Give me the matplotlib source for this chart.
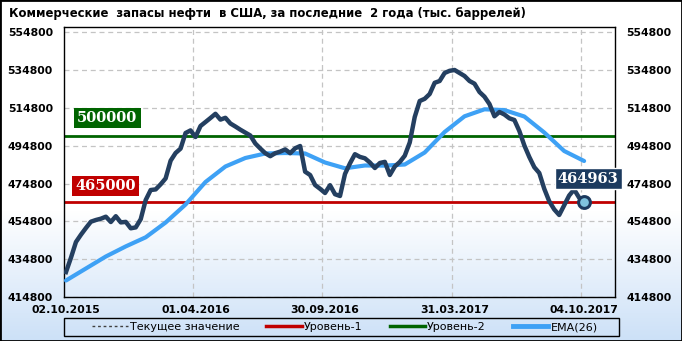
import matplotlib
matplotlib.use("Agg")
import matplotlib.pyplot as plt
import numpy as np
from matplotlib.lines import Line2D
from matplotlib.patches import Rectangle

# chart data
title = "Коммерческие  запасы нефти  в США, за последние  2 года (тыс. баррелей)"
date_labels = ["02.10.2015", "01.04.2016", "30.09.2016", "31.03.2017", "04.10.2017"]
date_idx = [0, 26, 52, 78, 104]

# weekly stocks, thousand barrels
stocks = [428000, 435600, 443900, 447760, 451300, 454640, 455540, 456230, 457290, 454480,
          457550, 454270, 454540, 451150, 451630, 455960, 466120, 471410, 471730, 474430,
          477550, 486920, 490990, 493320, 501570, 502950, 499460, 505280, 507390, 509510,
          511730, 508660, 509610, 506600, 505010, 503320, 501780, 500250, 496020, 493370,
          490890, 489300, 490890, 491730, 492900, 490890, 493480, 494690, 481100, 479350,
          474060, 472050, 469830, 473950, 469190, 468240, 479880, 485490, 490360, 488930,
          488190, 485960, 483050, 485700, 486300, 479350, 483850, 486230, 489560, 496550,
          510040, 518500, 519670, 522210, 528130, 529090, 533320, 534480, 534910, 533320,
          531730, 529090, 527660, 523270, 520780, 516920, 510410, 512680, 511360, 509350,
          508450, 502630, 495010, 488870, 483480, 480410, 472050, 465440, 461150, 458190,
          463320, 468500, 471680, 467340, 464963]

# EMA(26) read every 4 weeks
ema_idx = list(range(0, 105, 4))
ema26 = [423530, 429880, 436230, 441570, 446390, 454220, 463740, 475650, 483850, 488350,
         490730, 490990, 490730, 485960, 482900, 484380, 484320, 484910, 491260, 502100,
         510410, 514110, 513690, 510300, 501840, 492050, 486760]

level1 = 465000
level2 = 500000
yticks = list(range(414800, 554801, 20000))

W, H = 682, 341
fig = plt.figure(figsize=(W / 100, H / 100), dpi=100)

# background gradient (white -> light blue at bottom)
bg = fig.add_axes([0, 0, 1, 1], zorder=-10)
bg.axis("off")
rows = np.arange(H)
t = np.clip((rows - 210) / (H - 210), 0, 1)[::-1]
top_c = np.array([1.0, 1.0, 1.0])
bot_c = np.array([0.80, 0.88, 0.97])
grad = (top_c[None, :] * (1 - t[:, None]) + bot_c[None, :] * t[:, None])[:, None, :]
bg.imshow(grad, aspect="auto", extent=[0, 1, 0, 1], origin="lower")
bg.set_xlim(0, 1)
bg.set_ylim(0, 1)

ax = fig.add_axes([64 / W, 1 - 297 / H, 551 / W, 270 / H])
ax.set_facecolor("none")

x = np.arange(len(stocks))
ax.axhline(level1, color="#c00000", lw=2, zorder=2)
ax.axhline(level2, color="#006400", lw=2, zorder=2)
ax.plot(ema_idx, ema26, color="#3ea1f5", lw=3, zorder=3, solid_capstyle="round")
ax.plot(x, stocks, color="#243f60", lw=3.2, zorder=4, solid_joinstyle="round")
ax.plot(x[-1], stocks[-1], "o", ms=8.5, mfc="#7fc3de", mec="#1c3a5e", mew=2.2, zorder=5)

ax.set_xlim(-0.4, 110.2)
ax.set_ylim(414800, 557660)

# grid
gstyle = dict(ls=(0, (4, 3)), color="#c4c4c4", lw=0.9, zorder=1)
for v in yticks:
    ax.axhline(v, **gstyle)
for d in date_idx[1:]:
    ax.axvline(d - 0.6, **gstyle)

ax.set_yticks(yticks)
ax.set_yticklabels([str(v) for v in yticks], fontweight="bold")
ax.tick_params(axis="y", length=0, labelleft=True, labelright=True, pad=8, labelsize=7.8)
ax.set_xticks(date_idx)
ax.set_xticklabels(date_labels, fontweight="bold")
ax.tick_params(axis="x", length=0, pad=6, labelsize=7.8)
for s in ax.spines.values():
    s.set_color("black")
    s.set_linewidth(1)

# level labels
box_font = dict(color="white", fontweight="bold", family="DejaVu Serif", fontsize=10.5)
ax.annotate(str(level2), xy=(0.024, level2), xycoords=("axes fraction", "data"),
            xytext=(0, 13), textcoords="offset points", ha="left", va="center",
            bbox=dict(boxstyle="square,pad=0.22", fc="#006400", ec="none"), zorder=6, **box_font)
ax.annotate(str(level1), xy=(0.020, level1), xycoords=("axes fraction", "data"),
            xytext=(0, 11.5), textcoords="offset points", ha="left", va="center",
            bbox=dict(boxstyle="square,pad=0.22", fc="#c00000", ec="none"), zorder=6, **box_font)
ax.annotate(str(stocks[-1]), xy=(x[-1], stocks[-1]), xytext=(3, 17), textcoords="offset points",
            ha="center", va="center", annotation_clip=False,
            bbox=dict(boxstyle="square,pad=0.22", fc="#1c3a5e", ec="white", lw=1), zorder=7, **box_font)

# title
fig.text(9 / W, 1 - 13 / H, title, ha="left", va="center", fontweight="bold", fontsize=8.4)

# legend: entries centred, frame drawn as separate box
handles = [Line2D([], [], color="#404040", ls=(0, (2, 2)), lw=1),
           Line2D([], [], color="#c00000", lw=2.5),
           Line2D([], [], color="#006400", lw=2.5),
           Line2D([], [], color="#3ea1f5", lw=3.5)]
labels = ["Текущее значение", "Уровень-1", "Уровень-2", "EMA(26)"]
fig.legend(handles, labels, loc="center", bbox_to_anchor=(345 / W, 1 - 327 / H),
           ncol=4, frameon=False, fontsize=8, handlelength=3.2, handletextpad=0.2,
           columnspacing=2.4, borderaxespad=0, borderpad=0)
fig.add_artist(Rectangle((64 / W, 1 - 336 / H), 555 / W, 18 / H, transform=fig.transFigure,
                         fill=False, ec="black", lw=1))

# outer border
fig.add_artist(Rectangle((0, 0), 1, 1, transform=fig.transFigure, fill=False, ec="black", lw=2))

fig.savefig("out.png", dpi=100)
